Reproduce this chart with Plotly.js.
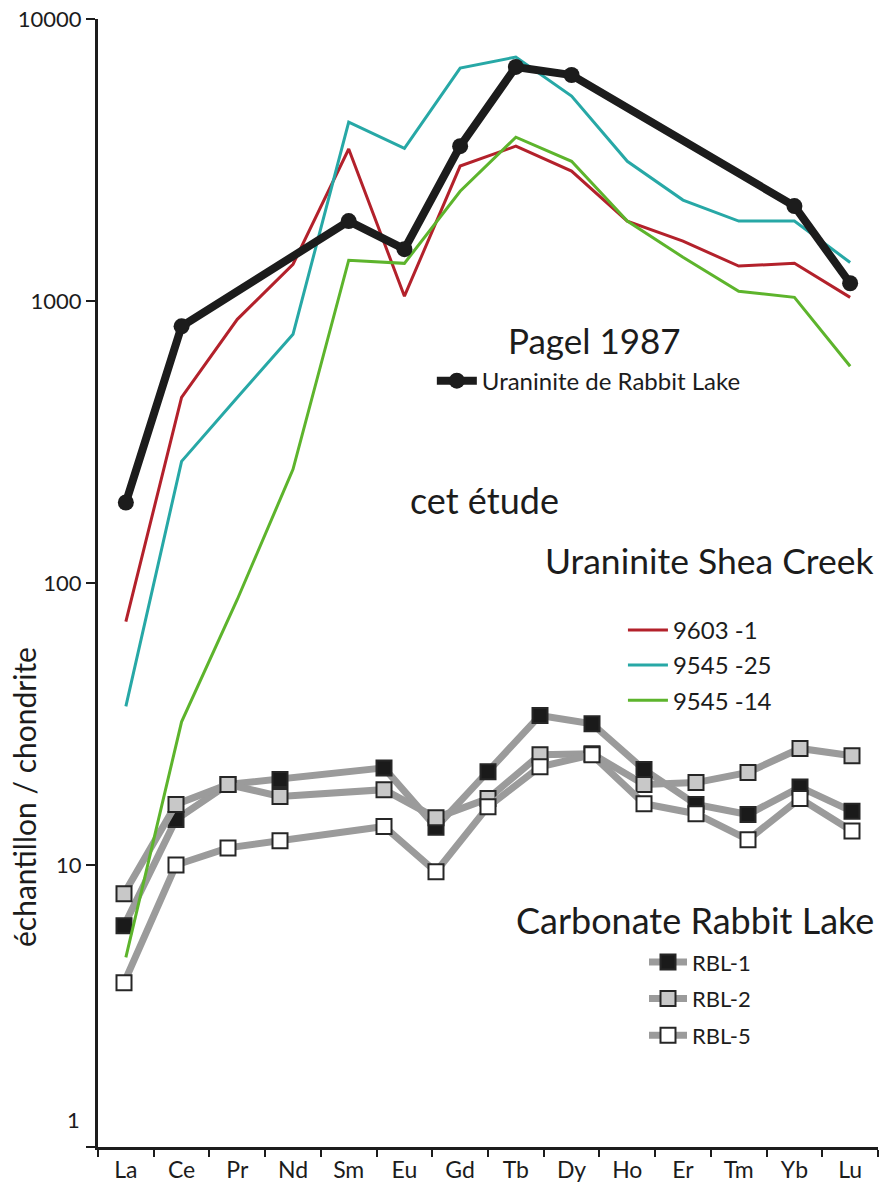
<!DOCTYPE html>
<html>
<head>
<meta charset="utf-8">
<script src="https://cdn.plot.ly/plotly-3.0.1.min.js"></script>
<style>
  html, body { margin: 0; padding: 0; background: #fff; }
  #chart { width: 882px; height: 1198px; }
</style>
</head>
<body>
<div id="chart"></div>
<script>
// Elements shown on the axis (uraninite data)
const elements = ["La", "Ce", "Pr", "Nd", "Sm", "Eu", "Gd", "Tb", "Dy", "Ho", "Er", "Tm", "Yb", "Lu"];
// Carbonate data were plotted with a Pm slot
const carbonateElements = ["La", "Ce", "Pr", "Nd", "Pm", "Sm", "Eu", "Gd", "Tb", "Dy", "Ho", "Er", "Tm", "Yb", "Lu"];

const yTickVals = [1, 10, 100, 1000, 10000];
const yTickText = ["", "10", "100", "1000", "10000"];

// Pagel 1987 - Uraninite de Rabbit Lake
const pagelRabbitLake = [193, 813, null, null, 1920, 1527, 3540, 6760, 6330, null, null, null, 2170, 1156];

// Uraninite Shea Creek
const s9603_1  = [73, 455, 861, 1350, 3460, 1040, 3010, 3540, 2890, 1920, 1630, 1330, 1360, 1030];
const s9545_25 = [36.5, 270, 455, 762, 4310, 3480, 6700, 7330, 5330, 3130, 2280, 1920, 1920, 1370];
const s9545_14 = [4.7, 32.2, 87.4, 253, 1395, 1360, 2450, 3810, 3130, 1920, 1430, 1083, 1030, 587];

// Carbonate Rabbit Lake (Pm = null)
const rbl1 = [6.09, 14.5, 19.3, 20.1, null, 22.1, 13.6, 21.4, 33.9, 31.7, 21.8, 16.4, 15.1, 18.9, 15.5];
const rbl2 = [7.91, 16.4, 19.3, 17.5, null, 18.5, 14.7, 17.2, 24.6, 24.8, 19.3, 19.6, 21.3, 25.9, 24.4];
const rbl5 = [3.82, 10.0, 11.5, 12.2, null, 13.7, 9.46, 16.1, 22.3, 24.6, 16.5, 15.2, 12.3, 17.2, 13.2];

const FONT = "Lato, 'Liberation Sans', sans-serif";
const INK = "#1c1c1c";
const GRAYLINE = "#9b9b9b";

function carb(name, y, fill, grp) {
  return {
    type: "scatter", mode: "lines+markers", name: name,
    x: carbonateElements, y: y, xaxis: "x", yaxis: "y",
    connectgaps: true, legend: "legend3", legendgroup: grp,
    line: { color: GRAYLINE, width: 7 },
    marker: { symbol: "square", size: 15, color: fill, line: { color: "#262626", width: 2 } }
  };
}
function shea(name, y, color, grp) {
  return {
    type: "scatter", mode: "lines", name: name,
    x: elements, y: y, xaxis: "x2", yaxis: "y",
    legend: "legend2", legendgroup: grp,
    line: { color: color, width: 3 }
  };
}

const traces = [
  carb("RBL-1", rbl1, "#1a1a1a", "c1"),
  carb("RBL-2", rbl2, "#c8c8c8", "c2"),
  carb("RBL-5", rbl5, "#ffffff", "c3"),
  shea("9603 -1", s9603_1, "#b3212b", "s1"),
  shea("9545 -25", s9545_25, "#27a8a6", "s2"),
  shea("9545 -14", s9545_14, "#5db42c", "s3"),
  {
    type: "scatter", mode: "lines+markers", name: "Uraninite de Rabbit Lake",
    x: elements, y: pagelRabbitLake, xaxis: "x2", yaxis: "y",
    connectgaps: true, legend: "legend",
    line: { color: INK, width: 8 },
    marker: { symbol: "circle", size: 16, color: INK }
  }
];

const legendBase = {
  bgcolor: "rgba(0,0,0,0)", borderwidth: 0,
  xanchor: "left", yanchor: "top", orientation: "v",
  font: { family: FONT, size: 24, color: INK }
};

const layout = {
  width: 882, height: 1198,
  margin: { l: 98, r: 4, t: 19, b: 51, pad: 0 },
  paper_bgcolor: "#ffffff", plot_bgcolor: "#ffffff",
  font: { family: FONT, color: INK },
  showlegend: true,
  xaxis: {
    type: "category", categoryorder: "array", categoryarray: carbonateElements,
    range: [-0.5, 14.5], visible: false, fixedrange: true
  },
  xaxis2: {
    type: "category", categoryorder: "array", categoryarray: elements,
    range: [-0.5, 13.5], overlaying: "x", anchor: "y", side: "bottom",
    showline: true, linecolor: INK, linewidth: 3, mirror: false,
    ticks: "outside", tickson: "boundaries", ticklen: 7, tickwidth: 2, tickcolor: INK,
    showgrid: false, zeroline: false,
    tickfont: { family: FONT, size: 23, color: INK }
  },
  yaxis: {
    type: "log", range: [0, 4],
    tickmode: "array", tickvals: yTickVals, ticktext: yTickText,
    showline: true, linecolor: INK, linewidth: 3,
    ticks: "outside", ticklen: 9, tickwidth: 2, tickcolor: INK,
    showgrid: false, zeroline: false,
    tickfont: { family: FONT, size: 22, color: INK }
  },
  legend: Object.assign({}, legendBase, { x: 0.428, y: 0.699, itemwidth: 40 }),
  legend2: Object.assign({}, legendBase, { x: 0.673, y: 0.478, itemwidth: 40, tracegroupgap: 1 }),
  legend3: Object.assign({}, legendBase, { x: 0.700, y: 0.1825, itemwidth: 38, tracegroupgap: 5,
    font: { family: FONT, size: 22, color: INK } }),
  annotations: [
    { text: "1", xref: "paper", yref: "y", x: -0.02, y: 0.096, xanchor: "right", yanchor: "middle",
      showarrow: false, font: { family: FONT, size: 22, color: INK } },
    { text: "échantillon / chondrite", xref: "paper", yref: "paper", x: -0.094, y: 0.31,
      xanchor: "center", yanchor: "middle", textangle: -90, showarrow: false,
      font: { family: FONT, size: 30, color: INK } },
    { text: "Pagel 1987", xref: "paper", yref: "paper", x: 0.637, y: 0.715,
      xanchor: "center", yanchor: "middle", showarrow: false,
      font: { family: FONT, size: 35, color: INK } },
    { text: "cet étude", xref: "paper", yref: "paper", x: 0.397, y: 0.574,
      xanchor: "left", yanchor: "middle", showarrow: false,
      font: { family: FONT, size: 36, color: INK } },
    { text: "Uraninite Shea Creek", xref: "paper", yref: "paper", x: 0.997, y: 0.520,
      xanchor: "right", yanchor: "middle", showarrow: false,
      font: { family: FONT, size: 35.5, color: INK } },
    { text: "Carbonate Rabbit Lake", xref: "paper", yref: "paper", x: 0.997, y: 0.201,
      xanchor: "right", yanchor: "middle", showarrow: false,
      font: { family: FONT, size: 36, color: INK } }
  ]
};

Plotly.newPlot("chart", traces, layout, { displayModeBar: false, staticPlot: true });
</script>
</body>
</html>
